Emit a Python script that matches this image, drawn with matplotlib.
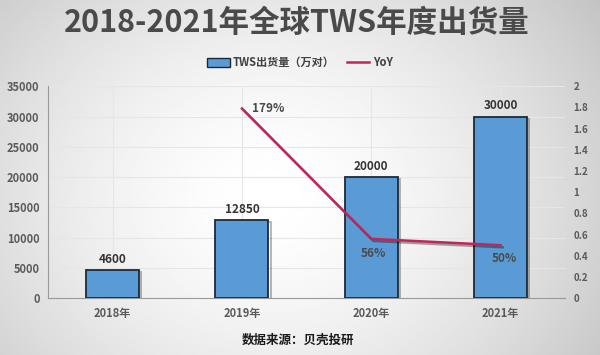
import numpy as np
import matplotlib.pyplot as plt
import matplotlib.patheffects as pe

plt.rcParams["font.family"] = ["Noto Sans CJK SC", "DejaVu Sans"]

years = ["2018年", "2019年", "2020年", "2021年"]
shipments = [4600, 12850, 20000, 30000]
yoy_years = ["2019年", "2020年", "2021年"]
yoy = [1.79, 0.56, 0.50]
yoy_labels = ["179%", "56%", "50%"]
left_ticks = [0, 5000, 10000, 15000, 20000, 25000, 30000, 35000]
right_ticks = [0, 0.2, 0.4, 0.6, 0.8, 1, 1.2, 1.4, 1.6, 1.8, 2]

BAR_BLUE = "#5b9bd5"
BAR_EDGE = "#1c2a38"
LINE_RED = "#c0265a"
TXT = "#5a5a5a"

fig = plt.figure(figsize=(6, 3.55), dpi=100)

# background gradient
bg = fig.add_axes([0, 0, 1, 1], zorder=-10)
yy, xx = np.mgrid[0:1:200j, 0:1:300j]
r = np.sqrt(((xx - 0.45) / 0.7) ** 2 + ((yy - 0.55) / 1.0) ** 2)
bg.imshow(1 - 0.25 * np.clip(r, 0, 1) ** 1.6, cmap="gray", vmin=0, vmax=1,
          extent=[0, 1, 0, 1], aspect="auto")
bg.axis("off")

ax = fig.add_axes([0.08, 0.16, 0.862, 0.597])
ax.set_facecolor("none")
x = np.arange(len(years))
ax.bar(x, shipments, width=0.41, color=BAR_BLUE, edgecolor=BAR_EDGE, linewidth=1.3,
       zorder=3, path_effects=[pe.SimpleLineShadow(offset=(1.5, -1.5), alpha=0.3), pe.Normal()])
for xi, v in zip(x, shipments):
    ax.text(xi, v + 700, str(v), ha="center", va="bottom", fontsize=8.5,
            fontweight="bold", color="#333333", zorder=5)
ax.set_xlim(-0.5, 3.5)
ax.set_ylim(0, 35000)
ax.set_yticks(left_ticks)
ax.set_xticks(x)
ax.set_xticklabels(years)
ax.grid(axis="both", color="#e6e6e6", linewidth=0.8, zorder=0)
ax.set_axisbelow(True)
for s in ["top", "right"]:
    ax.spines[s].set_visible(False)
ax.spines["left"].set_color("#9a9a9a")
ax.spines["bottom"].set_color("#9a9a9a")
ax.tick_params(length=0, labelsize=8, labelcolor=TXT, pad=6)
for lab in ax.get_yticklabels() + ax.get_xticklabels():
    lab.set_fontweight("bold")

ax2 = ax.twinx()
yx = [years.index(y) for y in yoy_years]
ax2.plot(yx, yoy, color=LINE_RED, linewidth=1.8, zorder=4,
         path_effects=[pe.SimpleLineShadow(offset=(1.5, -1.5), alpha=0.35), pe.Normal()])
ax2.set_ylim(0, 2)
ax2.set_yticks(right_ticks)
ax2.set_yticklabels([f"{t:g}" for t in right_ticks])
for s in ["top", "left", "right"]:
    ax2.spines[s].set_visible(False)
ax2.spines["bottom"].set_visible(False)
ax2.tick_params(length=0, labelsize=7, labelcolor=TXT, pad=6)
for lab in ax2.get_yticklabels():
    lab.set_fontweight("bold")
offsets = [(0.2, 0.0), (0.02, -0.14), (0.03, -0.13)]
for xi, v, t, (dx, dy) in zip(yx, yoy, yoy_labels, offsets):
    ax2.text(xi + dx, v + dy, t, ha="center", va="center", fontsize=8.5,
             fontweight="bold", color="#4a4a4a", zorder=6)

fig.text(0.495, 0.935, "2018-2021年全球TWS年度出货量", ha="center", va="center",
         fontsize=22, fontweight="bold", color="#4a4a4a")

# legend
fig.patches.append(plt.Rectangle((0.345, 0.81), 0.038, 0.028, transform=fig.transFigure,
                                 facecolor=BAR_BLUE, edgecolor=BAR_EDGE, linewidth=1))
fig.text(0.387, 0.825, "TWS出货量（万对）", ha="left", va="center", fontsize=8,
         fontweight="bold", color="#404040")
fig.lines.append(plt.Line2D([0.578, 0.615], [0.825, 0.825], transform=fig.transFigure,
                            color=LINE_RED, linewidth=1.8))
fig.text(0.622, 0.825, "YoY", ha="left", va="center", fontsize=8,
         fontweight="bold", color="#404040")

fig.text(0.497, 0.04, "数据来源：贝壳投研", ha="center", va="center", fontsize=9,
         fontweight="bold", color="#1a1a1a")

fig.savefig("out.png", dpi=100)
